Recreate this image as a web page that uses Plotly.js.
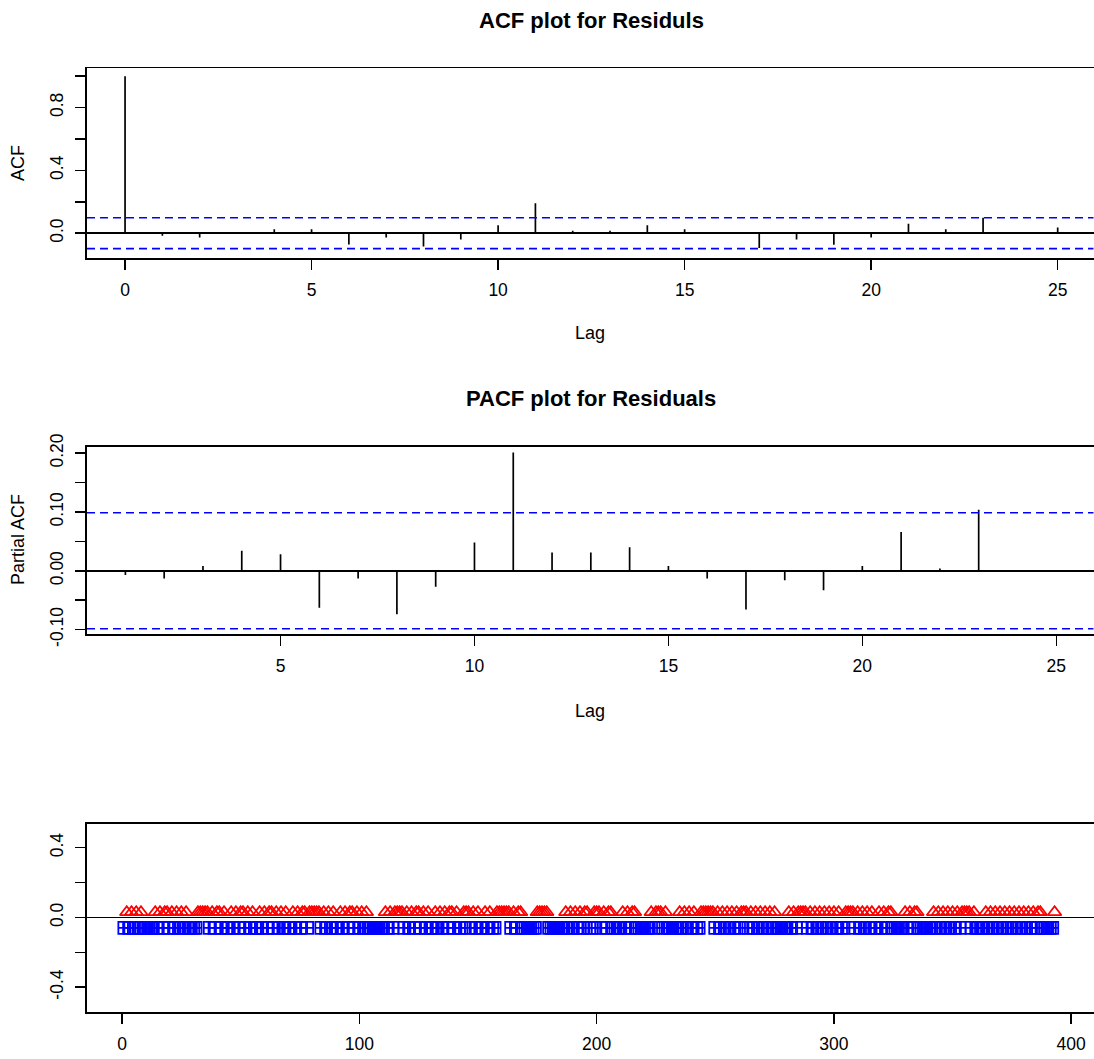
<!DOCTYPE html>
<html><head><meta charset="utf-8">
<script src="https://cdn.plot.ly/plotly-3.0.1.min.js"></script>
<style>html,body{margin:0;padding:0;background:#fff}#chart{width:1094px;height:1059px}</style>
</head><body><div id="chart"></div>
<script>
// ---- data ----
const acfLags = [0,1,2,3,4,5,6,7,8,9,10,11,12,13,14,15,16,17,18,19,20,21,22,23,24,25];
const acfValues = [1.0,-0.017,-0.028,0.003,0.025,0.025,-0.072,-0.028,-0.085,-0.040,0.051,0.190,0.015,0.015,0.050,0.025,0.002,-0.094,-0.040,-0.073,-0.028,0.060,0.025,0.098,0.002,0.036];
const pacfLags = [1,2,3,4,5,6,7,8,9,10,11,12,13,14,15,16,17,18,19,20,21,22,23,24,25];
const pacfValues = [-0.007,-0.013,0.008,0.034,0.028,-0.063,-0.013,-0.074,-0.027,0.048,0.201,0.031,0.031,0.040,0.008,-0.013,-0.066,-0.016,-0.033,0.008,0.066,0.004,0.104,0.001,-0.002];
const ciBound = 0.0986;

// indices of positive (red triangles) and negative (blue squares) residuals
const posIdx = [2,4,6,8,14,16,18,19,21,23,25,27,32,33,34,35,36,38,40,41,43,46,48,50,51,53,55,58,60,62,63,65,67,69,72,74,76,77,79,80,81,82,83,85,87,89,92,94,96,97,99,101,103,111,113,115,116,117,118,120,122,124,125,127,129,132,134,136,138,139,141,144,145,146,148,150,153,155,158,159,160,161,162,163,165,167,168,175,176,177,178,179,187,189,191,193,195,196,199,200,201,203,205,206,211,213,215,216,223,225,226,227,229,235,237,239,241,244,245,246,247,248,249,251,253,255,257,259,261,262,263,265,267,269,271,273,275,281,283,285,286,287,288,290,292,294,296,298,300,302,305,306,307,308,310,312,314,316,319,321,323,324,330,332,334,335,342,344,346,348,350,352,354,355,356,357,359,364,366,368,370,372,374,376,378,380,382,384,386,387,393];
const negIdx = [1,3,5,7,9,10,11,12,13,15,17,20,22,24,26,28,29,30,31,37,39,42,44,45,47,49,52,54,56,57,59,61,64,66,68,70,71,73,75,78,84,86,88,90,91,93,95,98,100,102,104,105,106,107,108,109,110,112,114,119,121,123,126,128,130,131,133,135,137,140,142,143,147,149,151,152,154,156,157,164,166,169,170,171,172,173,174,180,181,182,183,184,185,186,188,190,192,194,197,198,202,204,207,208,209,210,212,214,217,218,219,220,221,222,224,228,230,231,232,233,234,236,238,240,242,243,250,252,254,256,258,260,264,266,268,270,272,274,276,277,278,279,280,282,284,289,291,293,295,297,299,301,303,304,309,311,313,315,317,318,320,322,325,326,327,328,329,331,333,336,337,338,339,340,341,343,345,347,349,351,353,358,360,361,362,363,365,367,369,371,373,375,377,379,381,383,385,388,389,390,391,392];
const posLevel = 0.03;
const negLevel = -0.06;

// tick labels
const acfXTicks = [0,5,10,15,20,25];
const acfYTicks = [0,0.2,0.4,0.6,0.8,1.0];
const acfYLabels = ['0.0','','0.4','','0.8',''];
const pacfXTicks = [5,10,15,20,25];
const pacfYTicks = [-0.10,-0.05,0,0.05,0.10,0.15,0.20];
const pacfYLabels = ['-0.10','','0.00','','0.10','','0.20'];
const resXTicks = [0,100,200,300,400];
const resYTicks = [-0.4,-0.2,0,0.2,0.4];
const resYLabels = ['-0.4','','0.0','','0.4'];

const titleAcf = 'ACF plot for Residuls';
const titlePacf = 'PACF plot for Residuals';

// ---- layout helpers ----
const W = 1094, H = 1059;
const FONT = 'Liberation Sans, Arial, sans-serif';
const fx = p => p / W;
const fy = p => 1 - p / H;

function stems(xs, ys) {
  const X = [], Y = [];
  xs.forEach((x, i) => { X.push(x, x, null); Y.push(0, ys[i], null); });
  return {X, Y};
}
const sA = stems(acfLags, acfValues);
const sP = stems(pacfLags, pacfValues);

const traces = [
  {x: sA.X, y: sA.Y, xaxis: 'x', yaxis: 'y', mode: 'lines', line: {color: 'black', width: 1.7}, hoverinfo: 'skip', showlegend: false},
  {x: sP.X, y: sP.Y, xaxis: 'x2', yaxis: 'y2', mode: 'lines', line: {color: 'black', width: 1.7}, hoverinfo: 'skip', showlegend: false},
  {x: posIdx, y: posIdx.map(() => posLevel), xaxis: 'x3', yaxis: 'y3', mode: 'markers',
   marker: {symbol: 'triangle-up-open', size: 12, color: 'red', line: {color: 'red', width: 1.8}}, showlegend: false},
  {x: negIdx, y: negIdx.map(() => negLevel), xaxis: 'x3', yaxis: 'y3', mode: 'markers',
   marker: {symbol: 'square-cross-open', size: 12, color: 'blue', line: {color: 'blue', width: 1.8}}, showlegend: false}
];

const tickFont = {family: FONT, size: 17.5, color: 'black'};
function ax(extra) {
  return Object.assign({
    showline: true, linecolor: 'black', linewidth: 1.8, mirror: true,
    ticks: 'outside', ticklen: 10, tickwidth: 1.5, tickcolor: 'black',
    showgrid: false, zeroline: false, tickfont: tickFont, tickmode: 'array', fixedrange: true
  }, extra);
}
const xDom = [fx(87), fx(1093.5)];
const xExtra = {ticklabelstandoff: 5};
const yExtra = {zeroline: true, zerolinecolor: 'black', zerolinewidth: 1.5, tickangle: -90, ticklabelstandoff: 5};

const layout = {
  width: W, height: H,
  margin: {l: 0, r: 0, t: 0, b: 0},
  paper_bgcolor: 'white', plot_bgcolor: 'white',
  showlegend: false,
  xaxis: ax(Object.assign({domain: xDom, range: [-1.02, 25.96], tickvals: acfXTicks, anchor: 'y'}, xExtra)),
  yaxis: ax(Object.assign({domain: [fy(258.3), fy(68.3)], range: [-0.16, 1.05], tickvals: acfYTicks, ticktext: acfYLabels, anchor: 'x'}, yExtra)),
  xaxis2: ax(Object.assign({domain: xDom, range: [0.01, 25.96], tickvals: pacfXTicks, anchor: 'y2'}, xExtra)),
  yaxis2: ax(Object.assign({domain: [fy(634.3), fy(446.7)], range: [-0.108, 0.211], tickvals: pacfYTicks, ticktext: pacfYLabels, anchor: 'x2'}, yExtra)),
  xaxis3: ax(Object.assign({domain: xDom, range: [-14.75, 409.4], tickvals: resXTicks, anchor: 'y3'}, xExtra)),
  yaxis3: ax(Object.assign({domain: [fy(1012.3), fy(824)], range: [-0.544, 0.536], tickvals: resYTicks, ticktext: resYLabels, anchor: 'x3'}, yExtra)),
  shapes: [
    {type: 'line', xref: 'x domain', yref: 'y', x0: 0, x1: 1, y0: ciBound, y1: ciBound, line: {color: 'blue', width: 1.6, dash: '8px,5px'}},
    {type: 'line', xref: 'x domain', yref: 'y', x0: 0, x1: 1, y0: -ciBound, y1: -ciBound, line: {color: 'blue', width: 1.6, dash: '8px,5px'}},
    {type: 'line', xref: 'x2 domain', yref: 'y2', x0: 0, x1: 1, y0: ciBound, y1: ciBound, line: {color: 'blue', width: 1.6, dash: '8px,5px'}},
    {type: 'line', xref: 'x2 domain', yref: 'y2', x0: 0, x1: 1, y0: -ciBound, y1: -ciBound, line: {color: 'blue', width: 1.6, dash: '8px,5px'}}
  ],
  annotations: [
    {text: '<b>' + titleAcf + '</b>', xref: 'paper', yref: 'paper', x: fx(591), y: fy(20), xanchor: 'center', yanchor: 'middle', showarrow: false, font: {family: FONT, size: 22, color: 'black'}},
    {text: '<b>' + titlePacf + '</b>', xref: 'paper', yref: 'paper', x: fx(591), y: fy(398), xanchor: 'center', yanchor: 'middle', showarrow: false, font: {family: FONT, size: 22, color: 'black'}},
    {text: 'Lag', xref: 'paper', yref: 'paper', x: fx(590), y: fy(333), xanchor: 'center', yanchor: 'middle', showarrow: false, font: {family: FONT, size: 18, color: 'black'}},
    {text: 'Lag', xref: 'paper', yref: 'paper', x: fx(590), y: fy(711), xanchor: 'center', yanchor: 'middle', showarrow: false, font: {family: FONT, size: 18, color: 'black'}},
    {text: 'ACF', xref: 'paper', yref: 'paper', x: fx(18), y: fy(163), xanchor: 'center', yanchor: 'middle', textangle: -90, showarrow: false, font: {family: FONT, size: 18, color: 'black'}},
    {text: 'Partial ACF', xref: 'paper', yref: 'paper', x: fx(18), y: fy(540), xanchor: 'center', yanchor: 'middle', textangle: -90, showarrow: false, font: {family: FONT, size: 18, color: 'black'}}
  ]
};

Plotly.newPlot('chart', traces, layout, {staticPlot: true, displayModeBar: false});
</script>
</body></html>
